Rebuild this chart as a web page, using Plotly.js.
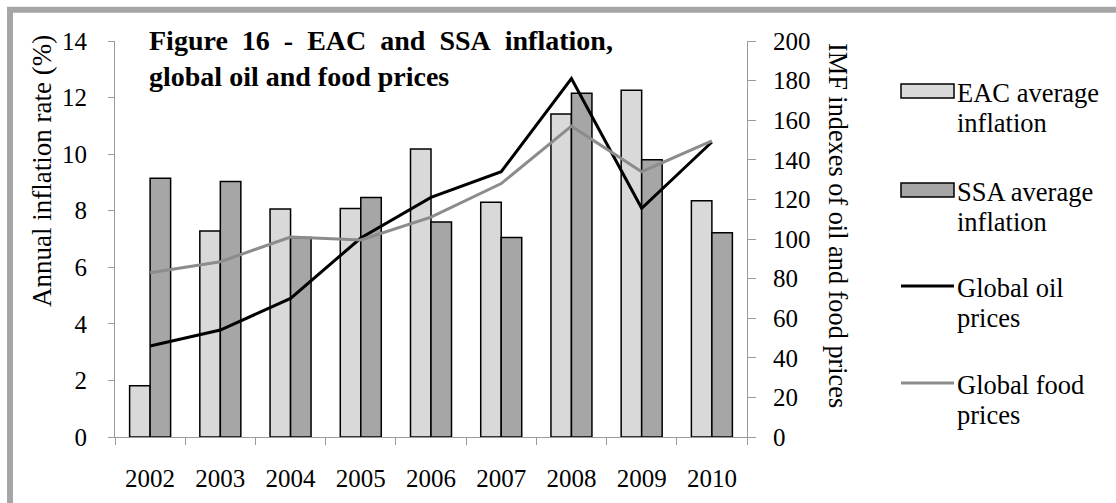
<!DOCTYPE html>
<html>
<head>
<meta charset="utf-8">
<script src="https://cdn.plot.ly/plotly-3.0.1.min.js"></script>
<style>
  html, body { margin: 0; padding: 0; background: #ffffff; }
  #chart { width: 1116px; height: 503px; }
</style>
</head>
<body>
<div id="chart"></div>
<script>
// Years on the category axis
const years = ['2002', '2003', '2004', '2005', '2006', '2007', '2008', '2009', '2010'];

// Annual inflation rate (%), left axis
const eacInflation = [1.81, 7.28, 8.06, 8.08, 10.18, 8.30, 11.42, 12.26, 8.35];
const ssaInflation = [9.15, 9.03, 7.05, 8.47, 7.60, 7.05, 12.15, 9.80, 7.22];

// IMF price indexes, right axis
const oilIndex  = [46, 54, 70, 100.5, 121, 134, 181, 115.5, 149];
const foodIndex = [83, 88.5, 101, 99.5, 111, 128, 157, 134, 149.5];

// Series labels, each shown on two lines in the key
const seriesNames = [
  ['EAC average', 'inflation'],
  ['SSA average', 'inflation'],
  ['Global oil', 'prices'],
  ['Global food', 'prices']
];

// Title lines (the first one is set justified, with wider word gaps)
const NB = '\u00A0';
const titleLine1 = ['Figure', '16', '-', 'EAC', 'and', 'SSA', 'inflation,'].join(NB + ' ');
const titleLine2 = 'global oil and food prices';

const FONT = '"Liberation Serif", "Times New Roman", Times, serif';
const W = 1116, H = 503;
const M = { l: 115, r: 369, t: 41, b: 66 };
const axisGray = '#9a9a9a';

const traces = [
  {
    type: 'bar', name: seriesNames[0].join(' '), x: years, y: eacInflation,
    marker: { color: '#d9d9d9', line: { color: '#000000', width: 1.5 } },
    yaxis: 'y', showlegend: false
  },
  {
    type: 'bar', name: seriesNames[1].join(' '), x: years, y: ssaInflation,
    marker: { color: '#a6a6a6', line: { color: '#000000', width: 1.5 } },
    yaxis: 'y', showlegend: false
  },
  {
    type: 'scatter', mode: 'lines', name: seriesNames[2].join(' '), x: years, y: oilIndex,
    line: { color: '#000000', width: 3 },
    yaxis: 'y2', showlegend: false
  },
  {
    type: 'scatter', mode: 'lines', name: seriesNames[3].join(' '), x: years, y: foodIndex,
    line: { color: '#8c8c8c', width: 3 },
    yaxis: 'y2', showlegend: false
  }
];

// pixel -> paper helpers for the key, titles and frame
const plotW = W - M.l - M.r, plotH = H - M.t - M.b;
const px = v => (v - M.l) / plotW;
const py = v => (H - M.b - v) / plotH;

// Key: a swatch and a two-line label per series
const keyCenter = [91, 190, 286, 383];
const keyFont = { family: FONT, size: 26.5, color: '#000000' };
const shapes = [];
const annotations = [];
traces.forEach((tr, i) => {
  const yc = keyCenter[i];
  if (tr.type === 'bar') {
    shapes.push({
      type: 'rect', xref: 'paper', yref: 'paper',
      x0: px(901), x1: px(954), y0: py(yc - 7), y1: py(yc + 7),
      fillcolor: tr.marker.color, line: { color: '#000000', width: 1.5 }
    });
  } else {
    shapes.push({
      type: 'line', xref: 'paper', yref: 'paper',
      x0: px(901), x1: px(954), y0: py(yc), y1: py(yc),
      line: { color: tr.line.color, width: 3 }
    });
  }
  seriesNames[i].forEach((line, k) => {
    annotations.push({
      xref: 'paper', yref: 'paper', x: px(955), y: py(yc + 2 + 30 * k),
      xanchor: 'left', yanchor: 'middle', align: 'left', showarrow: false,
      text: line, font: keyFont
    });
  });
});

// Axis titles
annotations.push({
  xref: 'paper', yref: 'paper', x: px(42), y: py(171),
  xanchor: 'center', yanchor: 'middle', textangle: -90, showarrow: false,
  text: 'Annual inflation rate (%)',
  font: { family: FONT, size: 27, color: '#000000' }
});
annotations.push({
  xref: 'paper', yref: 'paper', x: px(838), y: py(225),
  xanchor: 'center', yanchor: 'middle', textangle: 90, showarrow: false,
  text: 'IMF indexes of oil and food prices',
  font: { family: FONT, size: 26.3, color: '#000000' }
});

// Open grey frame along the top and left edges
shapes.push({
  type: 'line', xref: 'paper', yref: 'paper', layer: 'above',
  x0: px(7), x1: px(W + 5), y0: py(9.7), y1: py(9.7),
  line: { color: '#a6a6a6', width: 6 }
});
shapes.push({
  type: 'line', xref: 'paper', yref: 'paper', layer: 'above',
  x0: px(10), x1: px(10), y0: py(7), y1: py(H + 5),
  line: { color: '#a6a6a6', width: 6 }
});

const tickFont = { family: FONT, size: 25, color: '#000000' };

const layout = {
  width: W, height: H,
  margin: M,
  paper_bgcolor: '#ffffff', plot_bgcolor: 'rgba(0,0,0,0)',
  showlegend: false,
  barmode: 'group', bargap: 0.416, bargroupgap: 0,
  title: {
    text: '<b>' + titleLine1 + '<br>' + titleLine2 + '</b>',
    font: { family: FONT, size: 28, color: '#000000' },
    xref: 'container', yref: 'container',
    x: 149 / W, xanchor: 'left', y: 1 - 50 / H, yanchor: 'top'
  },
  xaxis: {
    type: 'category', tickfont: tickFont,
    showline: true, linecolor: axisGray, linewidth: 1,
    ticks: 'outside', tickson: 'boundaries', ticklen: 7, tickcolor: axisGray,
    ticklabelstandoff: 19, showgrid: false, zeroline: false, fixedrange: true
  },
  yaxis: {
    range: [0, 14], dtick: 2, tickfont: tickFont,
    showline: true, linecolor: axisGray, linewidth: 1,
    ticks: 'outside', ticklen: 6, tickcolor: axisGray, ticklabelstandoff: 16,
    showgrid: false, zeroline: false, fixedrange: true
  },
  yaxis2: {
    overlaying: 'y', side: 'right', range: [0, 200], dtick: 20, tickfont: tickFont,
    showline: true, linecolor: axisGray, linewidth: 1,
    ticks: 'outside', ticklen: 8, tickcolor: axisGray, ticklabelstandoff: 12,
    showgrid: false, zeroline: false, fixedrange: true
  },
  shapes: shapes,
  annotations: annotations
};

Plotly.newPlot('chart', traces, layout, { displayModeBar: false, staticPlot: true });
</script>
</body>
</html>
